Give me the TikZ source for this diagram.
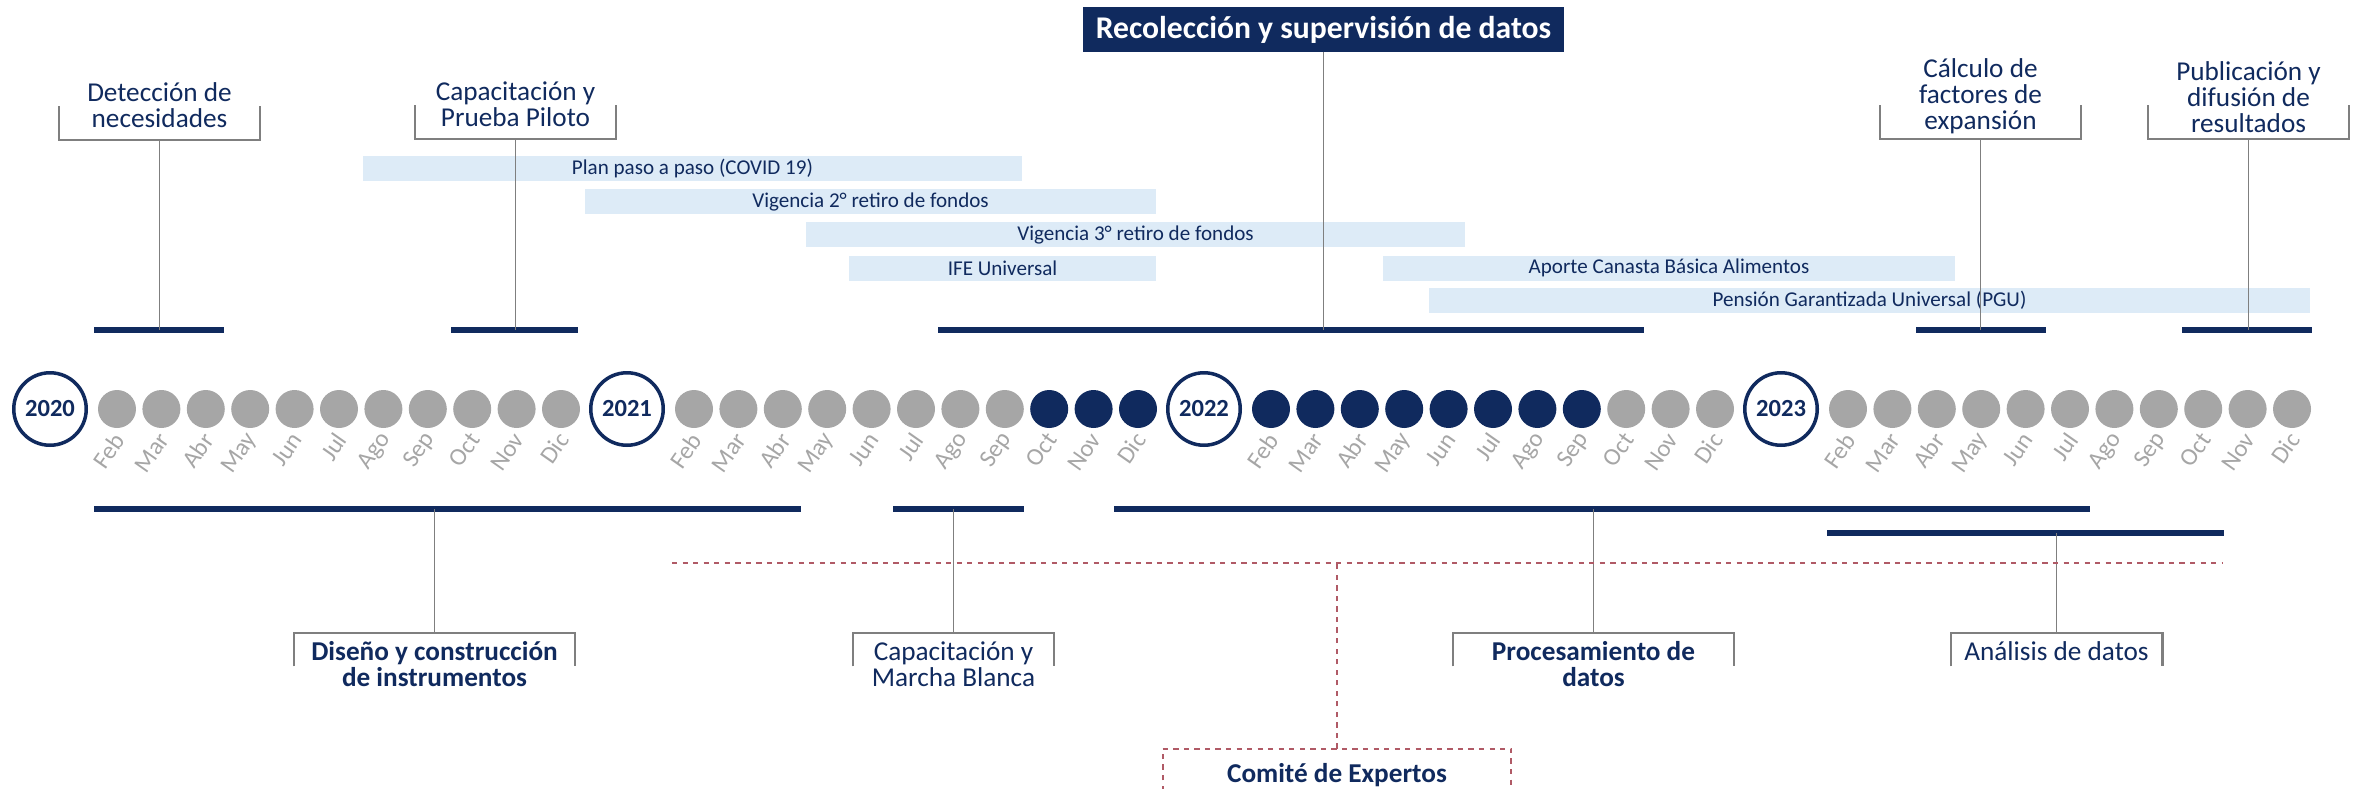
\documentclass[tikz,border=0pt]{standalone}
\usepackage{fontspec}
\setmainfont{Carlito}
\usetikzlibrary{positioning}

\definecolor{azul}{HTML}{102A5E}
\definecolor{celeste}{HTML}{DDEBF7}
\definecolor{gris}{HTML}{A6A6A6}
\definecolor{grislinea}{HTML}{7F7F7F}
\definecolor{rojo}{HTML}{B05A66}

\tikzset{
  anio/.style={circle, draw=azul, line width=2pt, fill=white, minimum size=1.45cm, inner sep=0pt,
    text=azul, font=\fontsize{14}{16}\selectfont\bfseries},
  punto/.style={circle, fill=gris, minimum size=0.76cm, inner sep=0pt},
  mes/.style={rotate=55, anchor=east, inner sep=0pt, text=gris, font=\fontsize{14}{16}\selectfont},
  hito/.style={fill=celeste, inner sep=0pt, minimum height=0.5cm, text=azul, font=\fontsize{12}{14}\selectfont},
  barra/.style={fill=azul, inner sep=0pt, minimum height=0.12cm},
  etiqueta/.style={align=center, inner sep=0pt, text=azul, font=\fontsize{15.5}{14.8}\selectfont},
  negrita/.style={font=\fontsize{15.5}{14.8}\selectfont\bfseries},
  llave/.style={inner sep=0pt, minimum height=0.66cm},
  corchete/.style={draw=grislinea, line width=1.3pt},
  linea/.style={draw=grislinea, line width=1pt},
  punteado/.style={draw=rojo, line width=1pt, dash pattern=on 3pt off 3pt},
}

\begin{document}
\begin{tikzpicture}[x=0.02cm, y=-0.02cm]
\useasboundingbox (0,0) rectangle (2359,788);

% hitos del contexto
\node[hito, minimum width=13.18cm] (covid) at (692.5,168.5) {Plan paso a paso (COVID 19)};
\node[hito, minimum width=11.42cm] (retiro2) at (870.5,201.5) {Vigencia 2° retiro de fondos};
\node[hito, minimum width=13.18cm] (retiro3) at (1135.5,234.5) {Vigencia 3° retiro de fondos};
\node[hito, minimum width=6.14cm] (ife) at (1002.5,268) {IFE Universal};
\node[hito, minimum width=11.44cm] (canasta) at (1669,268) {Aporte Canasta Básica Alimentos};
\node[hito, minimum width=17.62cm] (pgu) at (1869.5,300.5) {Pensión Garantizada Universal (PGU)};

% etapas de arriba
\node[barra, minimum width=2.6cm] (b1) at (159,330) {};
\node[barra, minimum width=2.54cm] (b2) at (514.5,330) {};
\node[barra, minimum width=14.12cm] (b3) at (1291,330) {};
\node[barra, minimum width=2.6cm] (b4) at (1981,330) {};
\node[barra, minimum width=2.6cm] (b5) at (2247,330) {};

\node[llave, minimum width=4cm] (kdet) at (159.5,123) {};
\node[llave, minimum width=4cm] (kpil) at (515.5,122) {};
\node[llave, minimum width=4cm] (kcal) at (1980.5,122) {};
\node[llave, minimum width=4cm] (kpub) at (2248.5,122) {};
\foreach \k in {kdet,kpil,kcal,kpub}
  \draw[corchete] (\k.north west) |- (\k.south) -| (\k.north east);

\node[etiqueta, anchor=south] (tdet) at ([yshift=0.24cm]kdet.south) {Detección de\\necesidades};
\node[etiqueta, anchor=south] (tpil) at ([yshift=0.24cm]kpil.south) {Capacitación y\\Prueba Piloto};
\node[etiqueta, anchor=south] (tcal) at ([yshift=0.1cm]kcal.south) {Cálculo de\\factores de\\expansión};
\node[etiqueta, anchor=south] (tpub) at ([yshift=0.12cm]kpub.south) {Publicación y\\difusión de\\resultados};

\node[fill=azul, text=white, minimum width=9.62cm, minimum height=0.9cm, inner sep=0pt,
  font=\fontsize{18}{20}\selectfont\bfseries] (reco) at (1323.5,29.5) {Recolección y supervisión de datos};

\draw[linea] (kdet.south) -- (kdet.south |- b1);
\draw[linea] (kpil.south) -- (kpil.south |- b2);
\draw[linea] (reco) -- (reco |- b3);
\draw[linea] (kcal.south) -- (kcal.south |- b4);
\draw[linea] (kpub.south) -- (kpub.south |- b5);

% linea de tiempo
\foreach \k/\anio in {0/2020,1/2021,2/2022,3/2023}{
  \pgfmathsetmacro{\xa}{50+577*\k}
  \node[anio] (a\anio) at (\xa,409) {\anio};
  \foreach \m/\mes in {2/Feb,3/Mar,4/Abr,5/May,6/Jun,7/Jul,8/Ago,9/Sep,10/Oct,11/Nov,12/Dic}{
    \pgfmathtruncatemacro{\i}{12*\k+\m}
    \pgfmathsetmacro{\xm}{\xa+67+44.4*(\m-2)}
    \ifnum\i>21 \ifnum\i<34 \def\col{azul}\else\def\col{gris}\fi\else\def\col{gris}\fi
    \node[punto, fill=\col] (p\anio-\m) at (\xm,409) {};
    \node[mes] (m\anio-\m) at ([xshift=0.05cm,yshift=-0.14cm]p\anio-\m.south) {\mes};
  }
}

% etapas de abajo
\node[barra, minimum width=14.14cm] (c1) at (447.5,509) {};
\node[barra, minimum width=2.62cm] (c2) at (958.5,509) {};
\node[barra, minimum width=19.52cm] (c3) at (1602,509) {};
\node[barra, minimum width=7.94cm] (c4) at (2025.5,533) {};

\node[llave, minimum width=5.62cm] (kdis) at (434.5,649.5) {};
\node[llave, minimum width=4.02cm] (kmar) at (953.5,649.5) {};
\node[llave, minimum width=5.62cm] (kpro) at (1593.5,649.5) {};
\node[llave, minimum width=4.22cm] (kana) at (2056.5,649.5) {};
\foreach \k in {kdis,kmar,kpro,kana}
  \draw[corchete] (\k.south west) |- (\k.north) -| (\k.south east);

\node[etiqueta, negrita, anchor=north] (tdis) at ([yshift=-0.17cm]kdis.north) {Diseño y construcción\\de instrumentos};
\node[etiqueta, anchor=north] (tmar) at ([yshift=-0.17cm]kmar.north) {Capacitación y\\Marcha Blanca};
\node[etiqueta, negrita, anchor=north] (tpro) at ([yshift=-0.17cm]kpro.north) {Procesamiento de\\datos};
\node[etiqueta, anchor=north] (tana) at ([yshift=-0.17cm]kana.north) {Análisis de datos};

\draw[linea] (kdis.north) -- (kdis.north |- c1);
\draw[linea] (kmar.north) -- (kmar.north |- c2);
\draw[linea] (kpro.north) -- (kpro.north |- c3);
\draw[linea] (kana.north) -- (kana.north |- c4);

% comite
\coordinate (ci) at (672,563);
\coordinate (cd) at (2223,563);
\draw[punteado] (ci) -- (cd);
\node[etiqueta, negrita, minimum width=6.96cm, minimum height=1.04cm] (comite) at (1337,775) {Comité de Expertos};
\draw[punteado] (comite.south west) |- (comite.north) -| (comite.south east);
\draw[punteado] (comite.north) -- (comite.north |- ci);

\end{tikzpicture}
\end{document}
